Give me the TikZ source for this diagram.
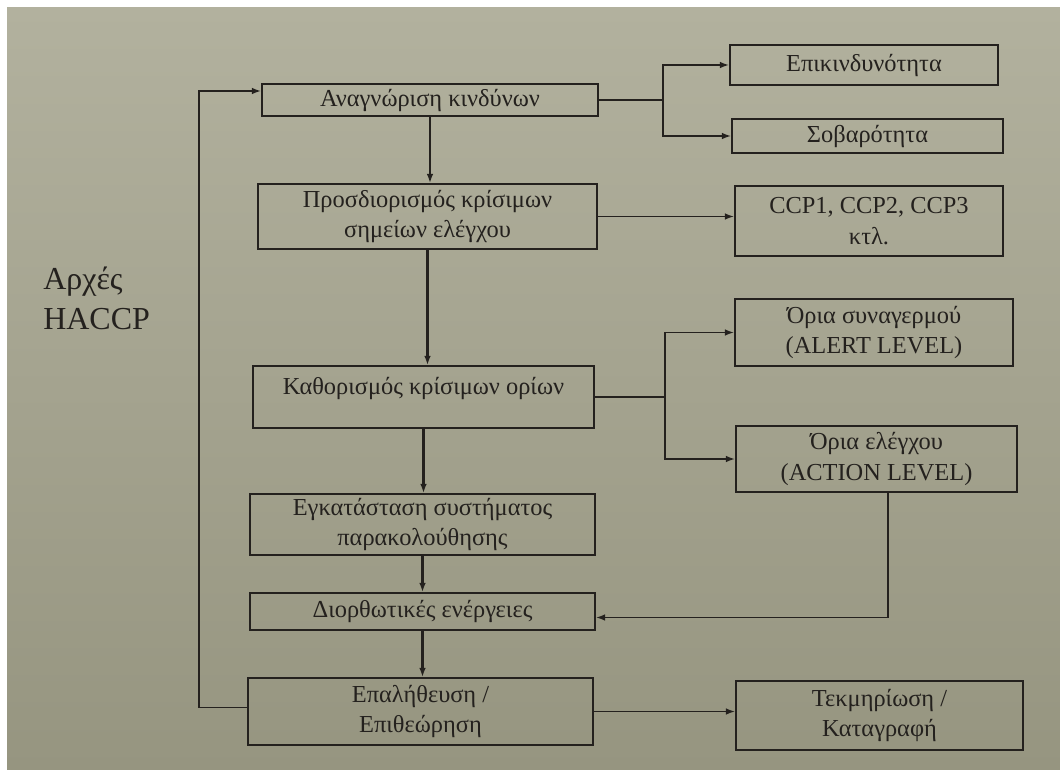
\documentclass[tikz,border=0pt]{standalone}
\usepackage{fontspec}
\setmainfont{Liberation Serif}
\usetikzlibrary{arrows.meta,calc}
\definecolor{paperTop}{RGB}{178,177,158}
\definecolor{paperBot}{RGB}{150,149,128}
\definecolor{ink}{RGB}{36,33,30}
% box from corner (x1,y1) to corner (x2,y2), in pixel units
\newcommand\flowbox[6]{%
  \node[box, minimum width={(#4-#2)*0.75pt}, minimum height={(#5-#3)*0.75pt}]
    (#1) at ({(#2+#4)/2},{(#3+#5)/2}) {#6};}
\begin{document}
\begin{tikzpicture}[x=0.75pt,y=-0.75pt,
  box/.style={draw=ink, line width=1.25pt, text=ink, align=center, inner sep=0pt,
    font=\fontsize{18.3}{23}\selectfont},
  link/.style={draw=ink, line width=1.25pt},
  arr/.style={link, -{Latex[length=7pt,width=5pt]}},
  mainarr/.style={arr, line width=1.8pt}]

% page
\fill[white] (0,0) rectangle (1060,770);
\shade[top color=paperTop, bottom color=paperBot] (7,8) rectangle (1060,770);

% side title
\node[anchor=west, align=left, text=ink, inner sep=0pt,
  font=\fontsize{24}{30}\selectfont] (title) at (43,298) {Αρχές\\HACCP};

% main column
\flowbox{A}{262}{84}{598}{116}{Αναγνώριση κινδύνων}
\flowbox{B}{258}{184}{597}{249}{Προσδιορισμός κρίσιμων\\σημείων ελέγχου}
\flowbox{C}{253}{366}{594}{428}{Καθορισμός κρίσιμων ορίων\\[-7pt]\mbox{}}
\flowbox{D}{250}{494}{595}{555}{Εγκατάσταση συστήματος\\παρακολούθησης}
\flowbox{E}{250}{593}{595}{630}{Διορθωτικές ενέργειες}
\flowbox{F}{248}{678}{593}{745}{Επαλήθευση /\\Επιθεώρηση}

% right column
\flowbox{R1}{730}{45}{998}{85}{Επικινδυνότητα}
\flowbox{R2}{732}{119}{1003}{153}{Σοβαρότητα}
\flowbox{CCP}{735}{186}{1003}{256}{CCP1, CCP2, CCP3\\κτλ.}
\flowbox{AL}{735}{299}{1013}{366}{Όρια συναγερμού\\(ALERT LEVEL)}
\flowbox{AC}{736}{426}{1017}{492}{Όρια ελέγχου\\(ACTION LEVEL)}
\flowbox{G}{736}{681}{1023}{750}{Τεκμηρίωση /\\Καταγραφή}

% main flow
\draw[mainarr] (A.south) -- (A.south |- B.north);
\draw[mainarr] (B.south) -- (B.south |- C.north);
\draw[mainarr] (C.south) -- (C.south |- D.north);
\draw[mainarr] (D.south) -- (D.south |- E.north);
\draw[mainarr] (E.south) -- (E.south |- F.north);

% branches
\coordinate (jA) at (663,100);
\draw[link] (A.east) -- (jA);
\draw[arr] (jA) |- (R1.west);
\draw[arr] (jA) |- (R2.west);

\draw[arr] (B.east) -- (B.east -| CCP.west);

\coordinate (jC) at (665,397);
\draw[link] (C.east) -- (jC);
\draw[arr] (jC) |- (AL.west);
\draw[arr] (jC) |- (AC.west);

\draw[arr] ($(AC.south)+(11.5,0)$) |- ($(E.east)+(0,6)$);

\draw[arr] (F.east) -- (F.east -| G.west);

% feedback loop
\draw[arr] ($(F.west)+(0,-4)$) -- ++(-48,0) |- ($(A.west)+(0,-9)$);
\end{tikzpicture}
\end{document}
